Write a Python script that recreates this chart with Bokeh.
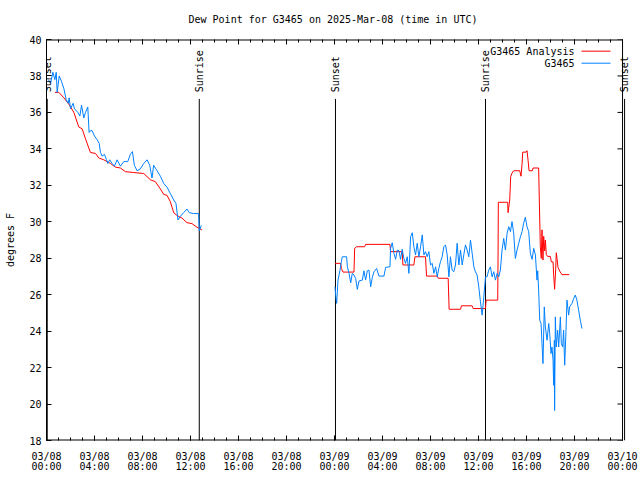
from bokeh.plotting import figure
from bokeh.models import (FixedTicker, LinearAxis, Range1d, Label, CustomLabelingPolicy)
from bokeh.embed import file_html
from bokeh.resources import INLINE

FONT = "DejaVu Sans Mono"

# ---- data (hours since 2025-03-08 00:00 UTC, dew point in F) ----
analysis_h1 = [0.70, 1.03, 1.45, 1.86, 2.28, 2.69, 2.97, 3.25, 3.66, 4.08, 4.36, 4.77, 5.33, 5.74,
               6.16, 6.58, 7.27, 8.10, 8.66, 9.07, 9.49, 9.77, 10.04, 10.32, 10.60, 10.87, 11.29,
               11.71, 12.12, 12.54, 12.96]
analysis_v1 = [37.1, 37.1, 36.8, 36.45, 36.0, 35.2, 35.1, 34.55, 33.8, 33.75, 33.5, 33.4, 33.2, 33.0,
               32.95, 32.75, 32.7, 32.65, 32.3, 32.2, 31.8, 31.5, 31.45, 31.1, 30.5, 30.35, 30.2,
               29.95, 29.9, 29.7, 29.55]

analysis_h2 = [24.04, 24.51, 24.57, 24.71, 25.62, 25.68, 25.84, 26.51, 26.59, 28.62, 28.67, 29.64,
               29.70, 30.61, 30.70, 31.58, 31.67, 32.56, 32.64, 33.47, 33.55, 34.50, 34.58, 35.47,
               35.55, 36.58, 36.63, 37.60, 37.63, 37.65, 38.43, 38.46, 38.60, 38.68, 38.79, 38.93,
               39.43, 39.54, 39.63, 39.68, 39.96, 40.04, 40.13, 40.21, 40.49, 40.54, 41.01, 41.07,
               41.15, 41.23, 41.29, 41.37, 41.43, 41.51, 41.57, 41.65, 41.76, 41.98, 42.07, 42.21,
               42.26, 42.34, 42.43, 42.48, 42.54, 42.62, 42.76, 42.95, 43.56]
analysis_v2 = [27.72, 27.72, 27.44, 27.24, 27.24, 28.54, 28.63, 28.63, 28.76, 28.76, 28.36, 28.36,
               27.63, 27.63, 28.08, 28.08, 27.02, 27.02, 26.9, 26.9, 25.2, 25.2, 25.39, 25.39,
               25.24, 25.24, 25.7, 25.7, 28.4, 31.07, 31.07, 30.5, 31.2, 32.48, 32.67, 32.8,
               32.8, 32.5, 33.18, 33.82, 33.82, 33.9, 33.37, 32.8, 32.8, 32.95, 32.95, 31.03,
               28.63, 27.99, 29.56, 27.9, 29.2, 28.4, 29.0, 28.2, 28.1, 28.1, 27.8, 27.8,
               27.1, 26.3, 27.4, 28.3, 28.0, 27.5, 27.3, 27.1, 27.1]

station_h1 = [0.15, 0.34, 0.53, 0.70, 0.81, 0.89, 1.06, 1.25, 1.45, 1.64, 1.81, 1.89, 2.00, 2.22,
              2.33, 2.61, 2.78, 2.92, 3.11, 3.25, 3.44, 3.55, 3.66, 3.80, 4.00, 4.22, 4.39, 4.50,
              4.63, 4.83, 5.00, 5.11, 5.27, 5.47, 5.66, 5.88, 6.16, 6.44, 6.77, 6.99, 7.16, 7.32,
              7.55, 7.82, 8.10, 8.38, 8.60, 8.79, 8.93, 9.21, 9.49, 9.77, 10.04, 10.32, 10.60,
              10.79, 10.96, 11.15, 11.43, 11.71, 11.90, 12.26, 12.68, 12.73, 12.90]
station_v1 = [37.8, 37.6, 38.2, 37.8, 38.2, 37.1, 38.0, 37.7, 37.3, 36.7, 36.5, 36.8, 36.2, 36.5,
              36.2, 36.0, 35.8, 36.4, 35.7, 36.0, 36.3, 34.9, 35.0, 35.0, 34.7, 34.5, 34.3, 33.8,
              33.6, 33.7, 33.4, 33.2, 33.4, 33.2, 33.05, 33.4, 33.05, 33.3, 33.3, 33.7, 33.85, 33.1,
              32.8, 32.9, 33.2, 33.4, 33.1, 32.4, 33.1, 32.8, 32.5, 32.1, 31.9, 31.55, 31.2,
              31.0, 30.1, 30.3, 30.5, 30.7, 30.5, 30.45, 30.45, 29.5, 29.8]

station_h2 = [24.04, 24.11, 24.18, 24.29, 24.46, 24.57, 24.65, 25.01, 25.07, 25.21, 25.35, 25.48,
              25.62, 25.76, 25.90, 26.04, 26.32, 26.45, 26.59, 26.73, 26.87, 27.01, 27.15, 27.29,
              27.51, 27.70, 28.12, 28.26, 28.62, 28.67, 28.81, 28.95, 29.09, 29.23, 29.37, 29.50,
              29.64, 29.78, 29.92, 30.06, 30.20, 30.34, 30.48, 30.61, 30.75, 30.89, 31.03, 31.17,
              31.31, 31.45, 31.58, 31.72, 31.86, 32.00, 32.14, 32.28, 32.42, 32.56, 32.69, 32.83,
              32.97, 33.11, 33.25, 33.39, 33.53, 33.66, 33.80, 33.94, 34.08, 34.22, 34.36, 34.50,
              34.64, 34.77, 34.91, 35.05, 35.19, 35.33, 35.47, 35.61, 35.74, 35.88, 36.02, 36.16,
              36.30, 36.44, 36.58, 36.71, 36.85, 36.99, 37.13, 37.27, 37.41, 37.55, 37.69, 37.82,
              37.96, 38.10, 38.24, 38.38, 38.52, 38.66, 38.79, 38.93, 39.07, 39.21, 39.35, 39.49,
              39.63, 39.76, 39.90, 40.04, 40.18, 40.32, 40.46, 40.60, 40.74, 40.87, 40.93, 41.01,
              41.10, 41.21, 41.29, 41.37, 41.48, 41.57, 41.71, 41.85, 41.93, 42.04, 42.12, 42.21,
              42.26, 42.32, 42.34, 42.40, 42.48, 42.59, 42.68, 42.82, 42.90, 43.01, 43.09, 43.18,
              43.29, 43.37, 43.51, 43.59, 43.79, 43.93, 44.06, 44.20, 44.34, 44.48, 44.62]
station_v2 = [26.43, 25.88, 25.52, 26.80, 27.35, 27.81, 28.08, 28.08, 27.53, 27.17, 26.65, 27.17,
              27.08, 26.89, 26.29, 26.75, 26.80, 27.31, 26.80, 27.31, 27.35, 26.43, 26.95, 27.26,
              27.44, 27.02, 27.02, 27.50, 27.53, 28.54, 28.85, 28.27, 27.94, 28.45, 28.41, 27.94,
              28.49, 27.99, 27.72, 28.08, 27.17, 29.18, 29.40, 28.63, 28.18, 28.82, 28.08, 28.63,
              29.28, 28.18, 28.36, 28.08, 28.36, 27.63, 27.72, 27.17, 27.53, 26.98, 27.44, 27.81,
              28.08, 28.63, 28.73, 28.18, 26.98, 28.08, 27.35, 27.26, 27.63, 28.82, 27.63, 28.45,
              27.63, 28.18, 28.73, 28.45, 28.08, 29.00, 28.27, 27.53, 27.26, 27.08, 26.43, 25.61,
              24.88, 25.88, 26.98, 26.98, 27.35, 27.53, 26.98, 27.26, 26.80, 27.17, 26.98, 27.35,
              28.45, 29.09, 28.45, 29.37, 29.73, 29.46, 30.01, 29.37, 27.99, 28.45, 28.82, 29.18,
              29.46, 29.92, 30.25, 29.73, 29.46, 28.27, 27.94, 28.54, 28.18, 26.80, 27.31, 26.25,
              24.60, 24.42, 23.32, 22.22, 25.33, 24.23, 23.50, 24.42, 23.87, 22.77, 23.13, 22.40,
              21.03, 23.50, 19.65, 24.78, 23.13, 24.05, 23.13, 24.78, 23.32, 23.13, 24.05, 22.13,
              24.05, 25.70, 24.88, 25.33, 25.52, 25.79, 25.98, 25.70, 25.15, 24.60, 24.14]

event_h = [0.06, 12.73, 24.08, 36.58, 48.17]
event_names = ["Sunset", "Sunrise", "Sunset", "Sunrise", "Sunset"]

x_tick_hours = [0, 4, 8, 12, 16, 20, 24, 28, 32, 36, 40, 44, 48]
x_tick_labels = ["03/08\n00:00", "03/08\n04:00", "03/08\n08:00", "03/08\n12:00", "03/08\n16:00",
                 "03/08\n20:00", "03/09\n00:00", "03/09\n04:00", "03/09\n08:00", "03/09\n12:00",
                 "03/09\n16:00", "03/09\n20:00", "03/10\n00:00"]
y_ticks = [18, 20, 22, 24, 26, 28, 30, 32, 34, 36, 38, 40]

series_names = ["G3465 Analysis", "G3465"]
series_colors = ["#ff0000", "#0080ff"]

# ---- layout constants ----
X_MIN, X_MAX = 0, 48
X_VIEW_MAX = 48.83         # room past the border so the last sunset marker/label show
Y_MIN, Y_MAX = 18, 40
RIGHT_TICK_LEN = 0.42      # ~5 px in hours
EVENT_LINE_TOP = 36.74
EVENT_TEXT_Y = 37.1
LEG_TEXT_X = 44.0
LEG_LINE_X0, LEG_LINE_X1 = 44.58, 47.0
LEG_ROWS_Y = [39.36, 38.70]

p = figure(width=640, height=480, output_backend="svg", toolbar_location=None,
           x_range=Range1d(X_MIN, X_VIEW_MAX), y_range=Range1d(Y_MIN, Y_MAX),
           min_border_left=46, min_border_right=8, min_border_top=39, min_border_bottom=40,
           background_fill_color="white", border_fill_color="white")
p.grid.visible = False
p.outline_line_color = None

p.title.text = "Dew Point for G3465 on 2025-Mar-08 (time in UTC)"
p.title.text_font = FONT
p.title.text_font_size = "10px"
p.title.text_font_style = "normal"
p.title.align = "left"
p.title.offset = 142
p.title.text_color = "black"
p.title.standoff = 22

x_ticker = FixedTicker(ticks=x_tick_hours, minor_ticks=list(range(X_MIN, X_MAX + 1)))
y_ticker = FixedTicker(ticks=y_ticks, minor_ticks=[])

xa = p.xaxis[0]
xa.ticker = x_ticker
xa.major_label_overrides = {h: lab for h, lab in zip(x_tick_hours, x_tick_labels)}
ya = p.yaxis[0]
ya.ticker = y_ticker
ya.axis_label = "degrees F"

for ax in (xa, ya):
    ax.major_label_text_font = FONT
    ax.major_label_text_font_size = "10px"
    ax.major_label_text_color = "black"
    ax.axis_line_color = "black"
    ax.major_tick_line_color = "black"
    ax.minor_tick_line_color = "black"
    ax.major_tick_in = 5
    ax.major_tick_out = 0
    ax.minor_tick_in = 3
    ax.minor_tick_out = 0
    ax.major_label_standoff = 5
xa.axis_line_color = None
xa.major_label_standoff = 10
xa.major_label_text_line_height = 0.95
ya.axis_label_text_font = FONT
ya.axis_label_text_font_size = "10px"
ya.axis_label_text_font_style = "normal"
ya.axis_label_text_color = "black"
ya.axis_label_standoff = 10

no_labels = CustomLabelingPolicy(code="""
    const all = [...indices]
    for (const i of all) indices.unset(i)
    return indices
""")
top = LinearAxis(ticker=x_ticker, major_label_policy=no_labels, major_label_text_font_size="1px",
                 major_tick_in=5, major_tick_out=0, minor_tick_in=3, minor_tick_out=0,
                 major_label_standoff=0, axis_line_color=None)
p.add_layout(top, "above")

# plot border (bottom, top, right) ending at the time axis end, plus right-side ticks
p.segment(x0=[X_MIN, X_MIN], y0=[Y_MIN, Y_MAX], x1=[X_MAX, X_MAX], y1=[Y_MIN, Y_MAX],
          line_color="black", line_width=2)
p.segment(x0=[X_MAX], y0=[Y_MIN], x1=[X_MAX], y1=[Y_MAX], line_color="black", line_width=1)
p.segment(x0=[X_MAX - RIGHT_TICK_LEN] * len(y_ticks), y0=y_ticks, x1=[X_MAX] * len(y_ticks),
          y1=y_ticks, line_color="black", line_width=1)

# sunrise / sunset markers
p.segment(x0=event_h, y0=[Y_MIN] * len(event_h), x1=event_h, y1=[EVENT_LINE_TOP] * len(event_h),
          line_color="black", line_width=1)
for eh, name in zip(event_h, event_names):
    p.add_layout(Label(x=eh, y=EVENT_TEXT_Y, text=name, angle=90, angle_units="deg",
                       text_align="left", text_baseline="middle", text_font=FONT,
                       text_font_size="10px", text_color="black"))

# series
p.line(analysis_h1, analysis_v1, line_color=series_colors[0], line_width=1)
p.line(analysis_h2, analysis_v2, line_color=series_colors[0], line_width=1)
p.line(station_h1, station_v1, line_color=series_colors[1], line_width=1)
p.line(station_h2, station_v2, line_color=series_colors[1], line_width=1)

# legend (gnuplot style: label then sample line)
for name, color, ly in zip(series_names, series_colors, LEG_ROWS_Y):
    p.add_layout(Label(x=LEG_TEXT_X, y=ly, text=name, text_align="right", text_baseline="middle",
                       text_font=FONT, text_font_size="10px", text_color="black"))
    p.segment(x0=[LEG_LINE_X0], y0=[ly], x1=[LEG_LINE_X1], y1=[ly], line_color=color, line_width=1)

open("out.html", "w").write(file_html(p, INLINE))
